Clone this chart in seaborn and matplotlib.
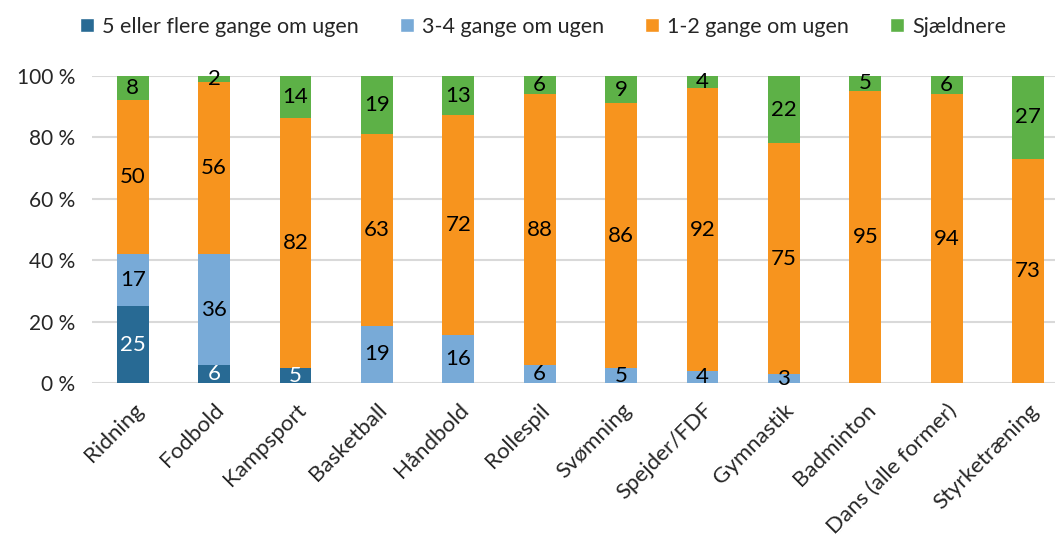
import numpy as np
import pandas as pd
import matplotlib
matplotlib.use("Agg")
import matplotlib.pyplot as plt
import seaborn as sns
from matplotlib.patches import Patch

# data
sports = ['Ridning', 'Fodbold', 'Kampsport', 'Basketball', 'Håndbold', 'Rollespil',
          'Svømning', 'Spejder/FDF', 'Gymnastik', 'Badminton', 'Dans (alle former)',
          'Styrketræning']
s5plus = [25, 6, 5, 0, 0, 0, 0, 0, 0, 0, 0, 0]
s34 = [17, 36, 0, 19, 16, 6, 5, 4, 3, 0, 0, 0]
s12 = [50, 56, 82, 63, 72, 88, 86, 92, 75, 95, 94, 73]
rarer = [8, 2, 14, 19, 13, 6, 9, 4, 22, 5, 6, 27]

series_names = ['5 eller flere gange om ugen', '3-4 gange om ugen',
                '1-2 gange om ugen', 'Sjældnere']
colors = ['#286A94', '#78AAD7', '#F7941E', '#5DB147']
text_colors = ['white', 'black', 'black', 'black']

df = pd.DataFrame({'sport': sports, series_names[0]: s5plus, series_names[1]: s34,
                   series_names[2]: s12, series_names[3]: rarer})
raw = df[series_names].to_numpy(dtype=float)
pct = raw / raw.sum(axis=1, keepdims=True) * 100

sns.set_style("white")
plt.rcParams['font.family'] = ['Lato', 'DejaVu Sans']
fs = 16

fig = plt.figure(figsize=(10.55, 5.37), dpi=100)
ax = fig.add_axes([0.0872, 0.286, 0.9128, 0.573])

bottom = np.zeros(len(sports))
for i, name in enumerate(series_names):
    sns.barplot(x=df['sport'], y=pct[:, i], bottom=bottom, color=colors[i],
                width=0.39, ax=ax, linewidth=0, saturation=1)
    for j in range(len(sports)):
        if raw[j, i] > 0:
            ax.text(j, bottom[j] + pct[j, i] / 2, f"{int(raw[j, i])}",
                    ha='center', va='center', fontsize=fs, color=text_colors[i])
    bottom += pct[:, i]

ax.set_xlim(-0.5, 11.33)
ax.set_ylim(0, 100)
ax.set_yticks(range(0, 101, 20))
ax.set_yticklabels([f"{v} %" for v in range(0, 101, 20)], fontsize=15)
ax.yaxis.grid(True, color='#D9D9D9', linewidth=1.5)
ax.set_axisbelow(True)
ax.tick_params(axis='y', length=0, pad=12)
ax.tick_params(axis='x', length=0, pad=12)
plt.setp(ax.get_xticklabels(), rotation=45, ha='right', rotation_mode='anchor', fontsize=fs)
ax.set_xlabel('')
ax.set_ylabel('')
for sp in ax.spines.values():
    sp.set_visible(False)

handles = [Patch(facecolor=c, label=n) for c, n in zip(colors, series_names)]
fig.legend(handles=handles, loc='upper center', bbox_to_anchor=(0.515, 1.005), ncol=4,
           frameon=False, fontsize=15.5, handlelength=0.65, handleheight=0.65,
           handletextpad=0.38, columnspacing=1.9)

fig.savefig('out.png', dpi=100)
